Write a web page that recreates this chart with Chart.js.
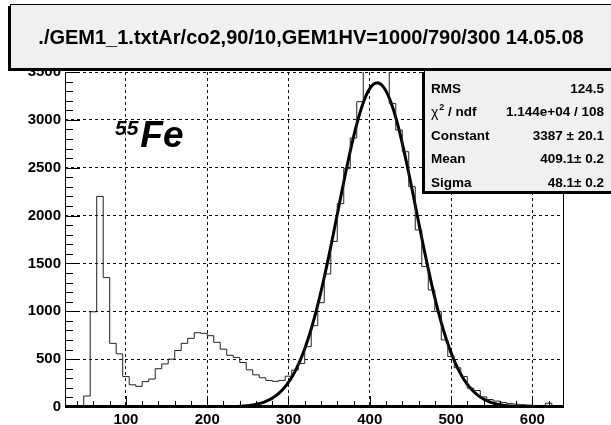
<!DOCTYPE html>
<html>
<head>
<meta charset="utf-8">
<script src="https://cdn.jsdelivr.net/npm/chart.js@4.4.1/dist/chart.umd.min.js"></script>
<style>
  html, body { margin: 0; padding: 0; background: #ffffff; }
  #wrap { width: 611px; height: 425px; position: relative; }
</style>
</head>
<body>
<div id="wrap"><canvas id="c" width="611" height="425"></canvas></div>
<script>
// ---- histogram: pulse height spectrum, 8-channel bins starting at 24 ----
const binStart = 24;
const binWidth = 8;
const counts = [
  0, 0, 0, 115, 995, 2200, 1352, 665, 555, 318,
  232, 216, 265, 292, 400, 450, 500, 590, 665, 717,
  776, 770, 745, 676, 604, 540, 518, 465, 388, 336,
  305, 278, 268, 278, 322, 385, 455, 630, 850, 1090,
  1390, 1730, 2125, 2490, 2810, 3190, 3600, 3750, 3750, 3600,
  3172, 2893, 2667, 2302, 1850, 1467, 1223, 997, 701, 527,
  410, 319, 197, 172, 106, 78, 62, 48, 38, 30,
  24, 20, 16, 14, 40, 10, 6
];

// ---- axes ----
const xRange = [25, 639];
const yRange = [0, 3500];
const xTicks = [100, 200, 300, 400, 500, 600];
const yTicks = [0, 500, 1000, 1500, 2000, 2500, 3000, 3500];
const xMinorStep = 20;
const yMinorStep = 100;

// ---- gaussian fit results ----
const fitConstant = 3387;
const fitMean = 409.1;
const fitSigma = 48.1;
const fitRange = [200, 640];

// ---- text ----
const titleText = './GEM1_1.txtAr/co2,90/10,GEM1HV=1000/790/300 14.05.08';
const statLabels = ['RMS', 'chi2', 'Constant', 'Mean', 'Sigma'];
const statValues = ['124.5', '1.144e+04 / 108', '3387 \u00b1 20.1', '409.1\u00b1 0.2', '48.1\u00b1 0.2'];
const isotopeMass = '55';
const isotopeName = 'Fe';

const FONT = '"Liberation Sans", Arial, Helvetica, sans-serif';

// step outline points (lower bin edges + closing edge)
const histPoints = counts.map((v, i) => ({ x: binStart + i * binWidth, y: v }));
histPoints.push({ x: binStart + counts.length * binWidth, y: counts[counts.length - 1] });

// fitted gaussian sampled over the fit range
const fitPoints = [];
for (let x = fitRange[0]; x <= fitRange[1]; x += 2) {
  const z = (x - fitMean) / fitSigma;
  fitPoints.push({ x: x, y: fitConstant * Math.exp(-0.5 * z * z) });
}

function drawBox(ctx, x0, y0, x1, y1, fill) {
  // shadow to the lower left, then the pave itself
  ctx.fillStyle = '#000';
  ctx.fillRect(x0 - 2, y0 + 2, x1 - x0, y1 - y0);
  ctx.fillStyle = fill;
  ctx.fillRect(x0, y0, x1 - x0, y1 - y0);
  ctx.strokeStyle = '#000';
  ctx.lineWidth = 1;
  ctx.strokeRect(x0 + 0.5, y0 + 0.5, x1 - x0 - 1, y1 - y0 - 1);
}

const decorPlugin = {
  id: 'decor',
  beforeDraw(chart) {
    const ctx = chart.ctx;
    ctx.save();
    ctx.fillStyle = '#ffffff';
    ctx.fillRect(0, 0, chart.width, chart.height);
    ctx.restore();
  },
  afterDatasetsDraw(chart) {
    const { ctx, chartArea: a, scales: { x, y } } = chart;
    ctx.save();
    ctx.strokeStyle = '#000';
    ctx.lineWidth = 1;
    ctx.beginPath();
    for (let v = yRange[0]; v <= yRange[1]; v += yMinorStep) {
      const py = Math.round(y.getPixelForValue(v)) + 0.5;
      const len = (v % 500 === 0) ? 15 : 8;
      ctx.moveTo(a.left, py);
      ctx.lineTo(a.left + len, py);
    }
    for (let v = Math.ceil(xRange[0] / xMinorStep) * xMinorStep; v <= xRange[1]; v += xMinorStep) {
      const px = Math.round(x.getPixelForValue(v)) + 0.5;
      const len = (v % 100 === 0) ? 11 : 6;
      ctx.moveTo(px, a.bottom);
      ctx.lineTo(px, a.bottom - len);
    }
    ctx.stroke();
    // frame
    ctx.beginPath();
    ctx.moveTo(a.left + 0.5, a.top);
    ctx.lineTo(a.left + 0.5, a.bottom);
    ctx.moveTo(a.right - 0.5, a.top);
    ctx.lineTo(a.right - 0.5, a.bottom);
    ctx.stroke();
    ctx.lineWidth = 3;
    ctx.beginPath();
    ctx.moveTo(a.left, a.bottom - 0.5);
    ctx.lineTo(a.right, a.bottom - 0.5);
    ctx.stroke();
    ctx.restore();
  },
  afterDraw(chart) {
    const ctx = chart.ctx;
    ctx.save();

    // isotope label
    ctx.fillStyle = '#000';
    ctx.textBaseline = 'alphabetic';
    ctx.textAlign = 'left';
    ctx.font = 'italic bold 21px ' + FONT;
    ctx.fillText(isotopeMass, 115, 135);
    const w55 = ctx.measureText(isotopeMass).width;
    ctx.font = 'italic bold 37px ' + FONT;
    ctx.fillText(isotopeName, 115 + w55 + 2, 147);

    // title pave
    drawBox(ctx, 10, 4, 640, 69, '#f0f0f0');
    ctx.fillStyle = '#000';
    ctx.font = 'bold 20px ' + FONT;
    ctx.textAlign = 'center';
    ctx.textBaseline = 'middle';
    ctx.fillText(titleText, 311, 38);

    // statistics pave
    drawBox(ctx, 424, 70, 640, 192, '#f0f0f0');
    const rowY = [89, 112.5, 136, 159.5, 183];
    ctx.fillStyle = '#000';
    ctx.textBaseline = 'middle';
    for (let i = 0; i < statLabels.length; i++) {
      ctx.textAlign = 'left';
      if (statLabels[i] === 'chi2') {
        ctx.font = '14px ' + FONT;
        ctx.fillText('\u03c7', 431, rowY[i] + 1);
        const wc = ctx.measureText('\u03c7').width;
        ctx.font = 'bold 9px ' + FONT;
        ctx.fillText('2', 431 + wc + 1, rowY[i] - 5);
        ctx.font = 'bold 13.5px ' + FONT;
        ctx.fillText(' / ndf', 431 + wc + 6, rowY[i]);
      } else {
        ctx.font = 'bold 13.5px ' + FONT;
        ctx.fillText(statLabels[i], 431, rowY[i]);
      }
      ctx.font = 'bold 13.5px ' + FONT;
      ctx.textAlign = 'right';
      ctx.fillText(statValues[i], 604, rowY[i]);
    }
    ctx.restore();
  }
};

new Chart(document.getElementById('c'), {
  type: 'line',
  data: {
    datasets: [
      {
        label: 'histogram',
        data: histPoints,
        stepped: true,
        borderColor: '#222222',
        borderWidth: 1,
        pointRadius: 0,
        fill: false,
        clip: 0
      },
      {
        label: 'gaus fit',
        data: fitPoints,
        borderColor: '#000000',
        borderWidth: 3,
        pointRadius: 0,
        tension: 0,
        fill: false,
        clip: 0
      }
    ]
  },
  options: {
    responsive: false,
    animation: false,
    devicePixelRatio: 1,
    layout: { padding: { left: 0, right: 47, top: 72, bottom: 0 } },
    plugins: { legend: { display: false }, title: { display: false }, tooltip: { enabled: false } },
    scales: {
      x: {
        type: 'linear',
        min: xRange[0],
        max: xRange[1],
        afterBuildTicks: s => { s.ticks = xTicks.map(v => ({ value: v })); },
        afterFit: s => { s.height = 18; },
        ticks: {
          autoSkip: false,
          maxRotation: 0,
          padding: 4,
          color: '#000',
          font: { family: FONT, size: 15, weight: 'bold' },
          callback: v => String(v)
        },
        grid: { color: '#111', lineWidth: 1, drawTicks: false },
        border: { display: false, dash: [3, 3] }
      },
      y: {
        type: 'linear',
        min: yRange[0],
        max: yRange[1],
        afterBuildTicks: s => { s.ticks = yTicks.map(v => ({ value: v })); },
        afterFit: s => { s.width = 65; },
        ticks: {
          autoSkip: false,
          padding: 4,
          color: '#000',
          font: { family: FONT, size: 15, weight: 'bold' },
          callback: v => String(v)
        },
        grid: { color: '#111', lineWidth: 1, drawTicks: false },
        border: { display: false, dash: [3, 3] }
      }
    }
  },
  plugins: [decorPlugin]
});
</script>
</body>
</html>
